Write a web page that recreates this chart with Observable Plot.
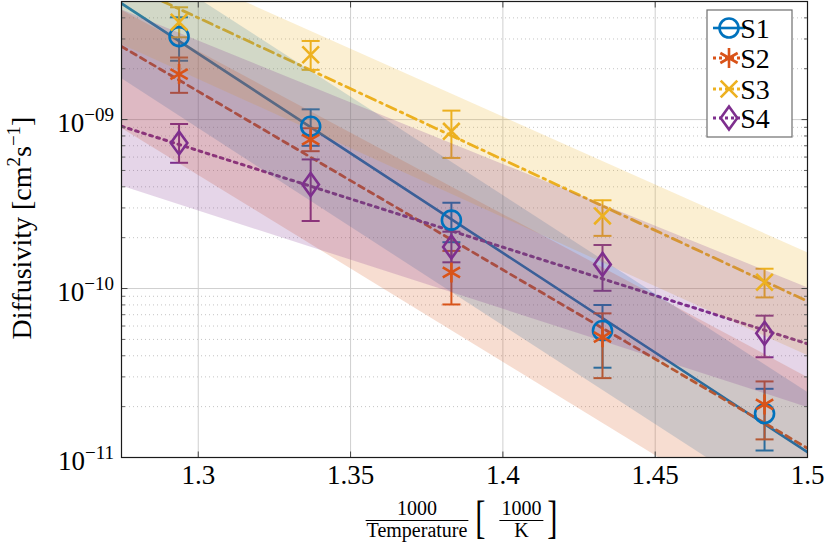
<!DOCTYPE html>
<html><head><meta charset="utf-8">
<script src="https://cdn.jsdelivr.net/npm/d3@7"></script>
<script src="https://cdn.jsdelivr.net/npm/@observablehq/plot@0.6"></script>
<style>
html,body{margin:0;padding:0;background:#fff;}
#chart{width:831px;height:552px;}
</style>
</head><body><div id="chart"></div>
<script>
// ---------------- data ----------------
const seriesNames = ["S1", "S2", "S3", "S4"];
const invTemp = [1.2937, 1.3369, 1.3831, 1.4327, 1.4859];

const s1Mean = [3.10e-9, 9.13e-10, 2.54e-10, 5.64e-11, 1.82e-11];
const s1Low  = [2.23e-9, 7.00e-10, 1.88e-10, 3.40e-11, 1.10e-11];
const s1High = [4.03e-9, 1.15e-9, 3.22e-10, 7.99e-11, 2.55e-11];

const s2Mean = [1.86e-9, 7.62e-10, 1.245e-10, 5.15e-11, 2.06e-11];
const s2Low  = [1.44e-9, 6.50e-10, 8.05e-11, 2.95e-11, 1.28e-11];
const s2High = [2.33e-9, 8.89e-10, 1.67e-10, 7.13e-11, 2.82e-11];

const s3Mean = [3.77e-9, 2.42e-9, 8.53e-10, 2.69e-10, 1.09e-10];
const s3Low  = [3.07e-9, 1.97e-9, 5.93e-10, 2.05e-10, 8.86e-11];
const s3High = [4.62e-9, 2.92e-9, 1.13e-9, 3.33e-10, 1.31e-10];

const s4Mean = [7.28e-10, 4.13e-10, 1.76e-10, 1.39e-10, 5.43e-11];
const s4Low  = [5.55e-10, 2.51e-10, 1.43e-10, 9.70e-11, 3.92e-11];
const s4High = [9.42e-10, 5.81e-10, 2.17e-10, 1.81e-10, 6.91e-11];

// fit lines and confidence bands, given at the two ends of the x range
const fitX = [1.2748, 1.5];
const s1Fit = [4.87e-9, 1.075e-11];
const s2Fit = [2.71e-9, 1.135e-11];
const s3Fit = [6.51e-9, 8.41e-11];
const s4Fit = [9.13e-10, 4.71e-11];

const s1BandLow = [1.75e-9, 4.10e-12];  const s1BandHigh = [1.025e-8, 2.43e-11];
const s2BandLow = [8.89e-10, 2.88e-12]; const s2BandHigh = [4.44e-9, 2.98e-11];
const s3BandLow = [2.78e-9, 4.01e-11];  const s3BandHigh = [1.053e-8, 1.63e-10];
const s4BandLow = [4.04e-10, 1.98e-11]; const s4BandHigh = [4.47e-9, 1.01e-10];

const xTicks = [1.3, 1.35, 1.4, 1.45, 1.5];
const xTickLabels = ["1.3", "1.35", "1.4", "1.45", "1.5"];
const yDecades = [1e-11, 1e-10, 1e-9];
const yTickLabels = ["\u221211", "\u221210", "\u221209"];
const yMinor = [2e-11,3e-11,4e-11,5e-11,6e-11,7e-11,8e-11,9e-11,
                2e-10,3e-10,4e-10,5e-10,6e-10,7e-10,8e-10,9e-10,
                2e-9,3e-9,4e-9];
const xDomain = [1.2748, 1.5];
const yDomain = [1e-11, 5e-9];

// ---------------- styles ----------------
const colors = ["#0072BD", "#D95319", "#EDB120", "#7E2F8E"];
const dashes = [null, "6,5", "10,5,2.5,5", "2.8,4.6"];
const lineWidths = [2.6, 2.8, 2.8, 3];
const serif = "'Liberation Serif', 'Times New Roman', Times, serif";

const symbols = {
  circle: {draw(ctx, size) { const r = Math.sqrt(size / Math.PI); ctx.moveTo(r, 0); ctx.arc(0, 0, r, 0, 2 * Math.PI); }},
  asterisk: {draw(ctx, size) { const r = Math.sqrt(size / Math.PI);
    for (const a of [90, 30, -30]) { const t = a * Math.PI / 180;
      ctx.moveTo(r * Math.cos(t), -r * Math.sin(t)); ctx.lineTo(-r * Math.cos(t), r * Math.sin(t)); } }},
  times: {draw(ctx, size) { const r = Math.sqrt(size / Math.PI);
    ctx.moveTo(-r, -r); ctx.lineTo(r, r); ctx.moveTo(-r, r); ctx.lineTo(r, -r); }},
  diamond: {draw(ctx, size) { const r = Math.sqrt(size / Math.PI), w = r * 0.72;
    ctx.moveTo(0, -r); ctx.lineTo(w, 0); ctx.lineTo(0, r); ctx.lineTo(-w, 0); ctx.closePath(); }},
  hcap: {draw(ctx, size) { const r = Math.sqrt(size / Math.PI); ctx.moveTo(-r, 0); ctx.lineTo(r, 0); }},
  tickUp: {draw(ctx, size) { const r = Math.sqrt(size / Math.PI); ctx.moveTo(0, 0); ctx.lineTo(0, -r); }},
  tickDown: {draw(ctx, size) { const r = Math.sqrt(size / Math.PI); ctx.moveTo(0, 0); ctx.lineTo(0, r); }},
  tickRight: {draw(ctx, size) { const r = Math.sqrt(size / Math.PI); ctx.moveTo(0, 0); ctx.lineTo(r, 0); }},
  tickLeft: {draw(ctx, size) { const r = Math.sqrt(size / Math.PI); ctx.moveTo(0, 0); ctx.lineTo(-r, 0); }}
};
const markerSym = [symbols.circle, symbols.asterisk, symbols.times, symbols.diamond];
const markerR = [9.5, 10, 8.3, 11.5];

// ---------------- tables ----------------
const means = [s1Mean, s2Mean, s3Mean, s4Mean];
const lows = [s1Low, s2Low, s3Low, s4Low];
const highs = [s1High, s2High, s3High, s4High];
const fits = [s1Fit, s2Fit, s3Fit, s4Fit];
const bandLows = [s1BandLow, s2BandLow, s3BandLow, s4BandLow];
const bandHighs = [s1BandHigh, s2BandHigh, s3BandHigh, s4BandHigh];

const pointsBy = seriesNames.map((s, i) => invTemp.map((x, j) => ({series: s, x, y: means[i][j], lo: lows[i][j], hi: highs[i][j]})));
const fitBy = seriesNames.map((s, i) => fitX.map((x, j) => ({series: s, x, y: fits[i][j], lo: bandLows[i][j], hi: bandHighs[i][j]})));

const marks = [];
// grid
marks.push(Plot.ruleY(yMinor, {y: d => d, stroke: "#c4c4c4", strokeWidth: 1, strokeDasharray: "1,3"}));
marks.push(Plot.ruleX(xTicks, {x: d => d, stroke: "#cfcfcf", strokeWidth: 1}));
marks.push(Plot.ruleY(yDecades, {y: d => d, stroke: "#cfcfcf", strokeWidth: 1}));
// fit lines
seriesNames.forEach((s, i) => {
  marks.push(Plot.line(fitBy[i], {x: "x", y: "y", stroke: colors[i], strokeWidth: lineWidths[i], strokeDasharray: dashes[i], clip: true}));
});
// error bars
seriesNames.forEach((s, i) => {
  marks.push(Plot.ruleX(pointsBy[i], {x: "x", y1: "lo", y2: "hi", stroke: colors[i], strokeWidth: 2}));
  marks.push(Plot.dot(pointsBy[i], {x: "x", y: "lo", symbol: symbols.hcap, r: 9, stroke: colors[i], strokeWidth: 2}));
  marks.push(Plot.dot(pointsBy[i], {x: "x", y: "hi", symbol: symbols.hcap, r: 9, stroke: colors[i], strokeWidth: 2}));
});
// bands (drawn over lines and error bars, as in the reference)
seriesNames.forEach((s, i) => {
  marks.push(Plot.areaY(fitBy[i], {x: "x", y1: "lo", y2: "hi", fill: colors[i], fillOpacity: 0.2, clip: true}));
});
// markers
seriesNames.forEach((s, i) => {
  marks.push(Plot.dot(pointsBy[i], {x: "x", y: "y", symbol: markerSym[i], r: markerR[i], stroke: colors[i], fill: "none", strokeWidth: 2.6}));
});
// inward ticks
marks.push(Plot.dot(xTicks, {x: d => d, frameAnchor: "bottom", symbol: symbols.tickUp, r: 6, stroke: "#444", strokeWidth: 1}));
marks.push(Plot.dot(xTicks, {x: d => d, frameAnchor: "top", symbol: symbols.tickDown, r: 6, stroke: "#444", strokeWidth: 1}));
marks.push(Plot.dot(yDecades, {y: d => d, frameAnchor: "left", symbol: symbols.tickRight, r: 6, stroke: "#444", strokeWidth: 1}));
marks.push(Plot.dot(yDecades, {y: d => d, frameAnchor: "right", symbol: symbols.tickLeft, r: 6, stroke: "#444", strokeWidth: 1}));
marks.push(Plot.dot(yMinor, {y: d => d, frameAnchor: "left", symbol: symbols.tickRight, r: 3.5, stroke: "#666", strokeWidth: 1}));
marks.push(Plot.dot(yMinor, {y: d => d, frameAnchor: "right", symbol: symbols.tickLeft, r: 3.5, stroke: "#666", strokeWidth: 1}));
marks.push(Plot.frame({stroke: "#1a1a1a", strokeWidth: 1.2}));
// x tick labels
marks.push(Plot.axisX(xTicks, {tickSize: 0, tickPadding: 7, tickFormat: (d, i) => xTickLabels[i], fontSize: 27, fill: "#000", label: null}));

const plot = Plot.plot({
  width: 831, height: 552,
  marginLeft: 121, marginRight: 24, marginTop: 1, marginBottom: 95,
  x: {domain: xDomain, axis: null},
  y: {type: "log", domain: yDomain, axis: null},
  style: {background: "white", fontFamily: serif, color: "#000", overflow: "visible"},
  marks
});
document.getElementById("chart").appendChild(plot);

const svg = d3.select(plot);
const yScale = plot.scale("y");

// y tick labels: 10^-NN
const yl = svg.append("g").attr("font-family", serif).attr("fill", "#000");
yDecades.forEach((v, i) => {
  const py = yScale.apply(v);
  const t = yl.append("text").attr("x", 114).attr("y", py + 13).attr("text-anchor", "end").attr("font-size", 27);
  t.append("tspan").text("10");
  t.append("tspan").attr("font-size", 19).attr("dy", -11).text(yTickLabels[i]);
});

// y axis label
const yLab = svg.append("text").attr("font-family", serif).attr("font-size", 28).attr("fill", "#000")
  .attr("text-anchor", "middle").attr("transform", "translate(31,228) rotate(-90)");
yLab.append("tspan").text("Diffusivity [cm");
yLab.append("tspan").attr("font-size", 19).attr("dy", -11).text("2");
yLab.append("tspan").attr("dy", 11).text("s");
yLab.append("tspan").attr("font-size", 19).attr("dy", -11).text("\u22121");
yLab.append("tspan").attr("dy", 11).text("]");

// x axis label: 1000/Temperature [1000/K]
const xl = svg.append("g").attr("font-family", serif).attr("fill", "#000");
const fs = 20, numY = 515, barY = 520.5, denY = 537;
const den1 = xl.append("text").attr("font-size", fs).attr("text-anchor", "middle").attr("y", denY).text("Temperature");
const num1 = xl.append("text").attr("font-size", fs).attr("text-anchor", "middle").attr("y", numY).text("1000");
const num2 = xl.append("text").attr("font-size", fs).attr("text-anchor", "middle").attr("y", numY).text("1000");
const den2 = xl.append("text").attr("font-size", fs).attr("text-anchor", "middle").attr("y", denY).text("K");
const w1 = den1.node().getComputedTextLength() + 2;
const w2 = num2.node().getComputedTextLength() + 4;
const bracketW = 10, gapA = 12, gapB = 9;
const total = w1 + gapA + bracketW + gapB + w2 + gapB + bracketW;
let cx = (121 + 807) / 2 - total / 2;
const f1c = cx + w1 / 2;
den1.attr("x", f1c); num1.attr("x", f1c);
xl.append("line").attr("x1", cx).attr("x2", cx + w1).attr("y1", barY).attr("y2", barY).attr("stroke", "#000").attr("stroke-width", 1);
cx += w1 + gapA;
xl.append("text").attr("font-size", 36).attr("transform", `translate(${cx},533) scale(0.85,1.3)`).text("[");
cx += bracketW + gapB;
const f2c = cx + w2 / 2;
num2.attr("x", f2c); den2.attr("x", f2c);
xl.append("line").attr("x1", cx).attr("x2", cx + w2).attr("y1", barY).attr("y2", barY).attr("stroke", "#000").attr("stroke-width", 1);
cx += w2 + gapB;
xl.append("text").attr("font-size", 36).attr("transform", `translate(${cx},533) scale(0.85,1.3)`).text("]");

// legend
const lg = svg.append("g");
lg.append("rect").attr("x", 707).attr("y", 10).attr("width", 85).attr("height", 127)
  .attr("fill", "white").attr("stroke", "#6e6e6e").attr("stroke-width", 1.2);
const rowY = [28, 58, 89, 118];
seriesNames.forEach((s, i) => {
  const ry = rowY[i];
  lg.append("line").attr("x1", 713).attr("x2", 745).attr("y1", ry).attr("y2", ry)
    .attr("stroke", colors[i]).attr("stroke-width", lineWidths[i]).attr("stroke-dasharray", dashes[i] ? "3,3" : null);
  lg.append("path").attr("transform", `translate(729,${ry})`)
    .attr("d", d3.symbol(markerSym[i], Math.PI * markerR[i] * markerR[i])())
    .attr("fill", "none").attr("stroke", colors[i]).attr("stroke-width", 2.6);
  lg.append("text").attr("x", 755).attr("y", ry + 10).attr("font-family", serif).attr("font-size", 28)
    .attr("fill", "#000").text(s);
});
</script>
</body></html>
